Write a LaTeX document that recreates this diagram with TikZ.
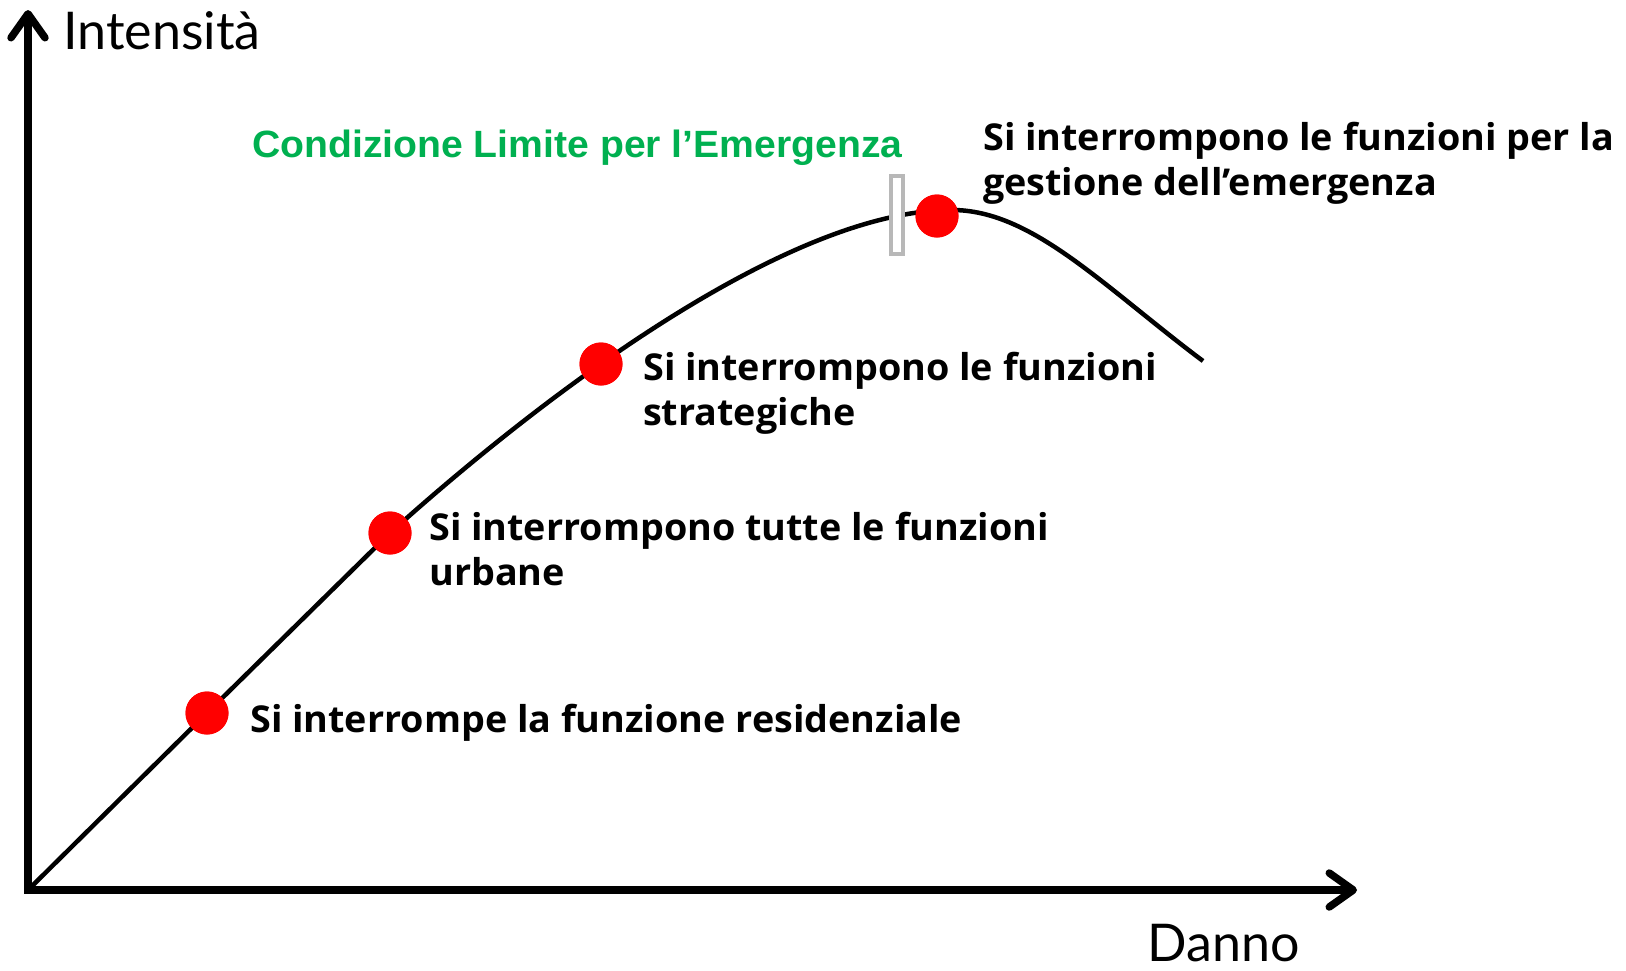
\documentclass[tikz,border=0pt]{standalone}
\usepackage{fontspec}
\setmainfont{Lato}
\newfontfamily\greenfont{Liberation Sans}
\newfontfamily\labfont{Open Sans}
\usetikzlibrary{arrows.meta}
\definecolor{pptgreen}{HTML}{00B050}
\tikzset{
  axis/.style={line width=7.5pt, -{Straight Barb[length=24pt,width=34pt,line width=7.5pt,line cap=round,line join=round]}},
  curve/.style={line width=4.5pt, line join=round},
  dot/.style={circle, fill=red, minimum size=43pt, inner sep=0pt},
  lab/.style={font=\fontsize{37}{45}\selectfont\labfont\bfseries, anchor=west, align=left, inner sep=0pt, xscale=1.02},
  axlab/.style={font=\fontsize{52}{60}\selectfont, inner sep=0pt},
  marker/.style={draw=black!28, line width=3.5pt, fill=white, minimum width=12pt, minimum height=78pt, inner sep=0pt}
}
\begin{document}
\begin{tikzpicture}[x=1pt,y=-1pt]
\useasboundingbox (0,0) rectangle (1626,970);
\coordinate (O) at (28,890);
\coordinate (Ytop) at (28,10);
\coordinate (Xend) at (1357,890);
\coordinate (P) at (952,210);
\coordinate (E) at (1203,361);
\node[dot] (d1) at (207,713) {};
\node[dot] (d2) at (390,533) {};
\node[dot] (d3) at (601,364) {};
\node[dot] (d4) at (937,216) {};
\draw[curve] (O) -- (d1.center) -- (d2.center) .. controls (530,407) and (782,210) .. (P) .. controls (1032,210) and (1103,286) .. (E);
\node[marker] (m) at (897,215) {};
\node[dot] at (d1) {};
\node[dot] at (d2) {};
\node[dot] at (d3) {};
\node[dot] at (d4) {};
\draw[axis] (O) -- (Ytop);
\draw[axis] (O) -- (Xend);
\fill (O) ++(-3.75,-3.75) rectangle ++(7.5,7.5);
\node[axlab, anchor=west] (yl) at (63,31) {Intensità};
\node[axlab] (xl) at (1224,943) {Danno};
\node[font=\fontsize{38}{40}\selectfont\bfseries\greenfont, text=pptgreen, inner sep=0pt, anchor=west, xscale=1.03] (cl) at (252,148) {Condizione Limite per l’Emergenza};
\node[lab] (t4) at (983,163) {Si interrompono le funzioni per la\\gestione dell’emergenza};
\node[lab] (t3) at (643,393) {Si interrompono le funzioni\\strategiche};
\node[lab] (t2) at (429,549) {Si interrompono tutte le funzioni\\urbane};
\node[lab] (t1) at (250,723) {Si interrompe la funzione residenziale};
\end{tikzpicture}
\end{document}
